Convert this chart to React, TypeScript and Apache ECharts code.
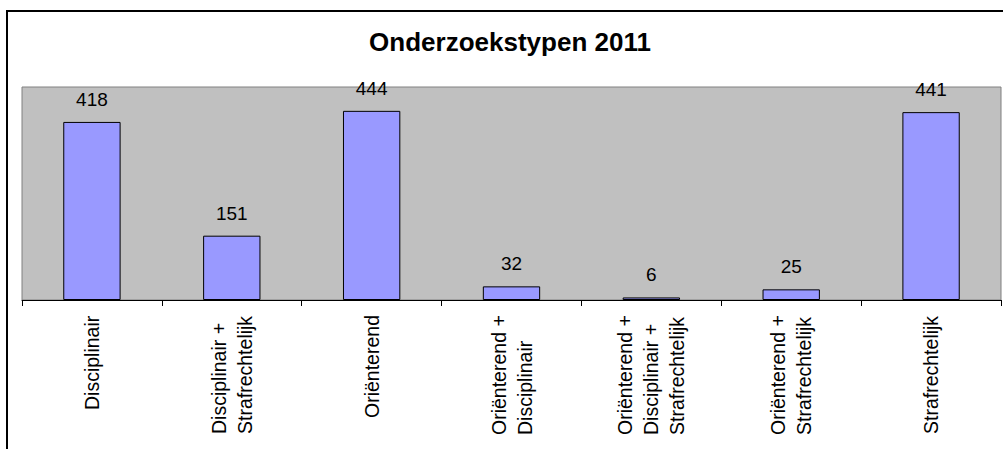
import React, { useEffect, useRef } from "react";
import * as echarts from "echarts";

const titleText = "Onderzoekstypen 2011";
const categories = [
  "Disciplinair",
  "Disciplinair +\nStrafrechtelijk",
  "Oriënterend",
  "Oriënterend +\nDisciplinair",
  "Oriënterend +\nDisciplinair +\nStrafrechtelijk",
  "Oriënterend +\nStrafrechtelijk",
  "Strafrechtelijk",
];
const values = [418, 151, 444, 32, 6, 25, 441];
const yMax = 500;

const FONT = "'Liberation Sans', Arial, Helvetica, sans-serif";
const LABEL_SIZE = 19.5;

function measure(text: string): number {
  const c = document.createElement("canvas").getContext("2d");
  if (!c) return text.length * LABEL_SIZE * 0.5;
  c.font = `${LABEL_SIZE}px ${FONT}`;
  return c.measureText(text).width;
}

export default function App() {
  const ref = useRef<HTMLDivElement>(null);
  useEffect(() => {
    document.body.style.margin = "0";
    const rich: Record<string, any> = {};
    categories.forEach((cat, i) => {
      const w = Math.max(...cat.split("\n").map(measure));
      rich["c" + i] = {
        width: Math.ceil(w) + 1,
        align: "left",
        fontFamily: FONT,
        fontSize: LABEL_SIZE,
        lineHeight: 26,
        color: "#000",
      };
    });
    const chart = echarts.init(ref.current!, null, { renderer: "svg" });
    chart.setOption({
      animation: false,
      backgroundColor: "#ffffff",
      textStyle: { fontFamily: FONT },
      title: {
        text: titleText,
        left: 510,
        top: 29,
        padding: 0,
        textAlign: "center",
        textStyle: { fontFamily: FONT, fontSize: 26, fontWeight: "bold", color: "#000" },
      },
      graphic: [
        {
          type: "rect",
          shape: { x: 7, y: 11, width: 1020, height: 460 },
          style: { fill: "none", stroke: "#000", lineWidth: 2 },
          silent: true,
          z: 100,
        },
      ],
      grid: {
        left: 22,
        right: 2,
        top: 87,
        height: 213,
        show: true,
        backgroundColor: "#C0C0C0",
        borderColor: "#808080",
        borderWidth: 1,
      },
      xAxis: {
        type: "category",
        data: categories,
        boundaryGap: true,
        axisLine: { show: true, lineStyle: { color: "#000", width: 1 } },
        axisTick: { show: true, length: 6, interval: 0, lineStyle: { color: "#000" } },
        axisLabel: {
          interval: 0,
          rotate: 90,
          margin: 14,
          fontFamily: FONT,
          fontSize: LABEL_SIZE,
          lineHeight: 26,
          color: "#000",
          formatter: (value: string, index: number) =>
            value
              .split("\n")
              .map((line) => `{c${index}|${line}}`)
              .join("\n"),
          rich,
        },
      },
      yAxis: {
        type: "value",
        min: 0,
        max: yMax,
        show: false,
        splitLine: { show: false },
      },
      series: [
        {
          type: "bar",
          data: values,
          barWidth: "41%",
          itemStyle: { color: "#9999FF", borderColor: "#000", borderWidth: 1 },
          label: {
            show: true,
            position: "top",
            distance: 13,
            fontFamily: FONT,
            fontSize: 19,
            color: "#000",
          },
        },
      ],
    });
    return () => chart.dispose();
  }, []);
  return <div ref={ref} style={{ width: 1003, height: 449 }} />;
}
